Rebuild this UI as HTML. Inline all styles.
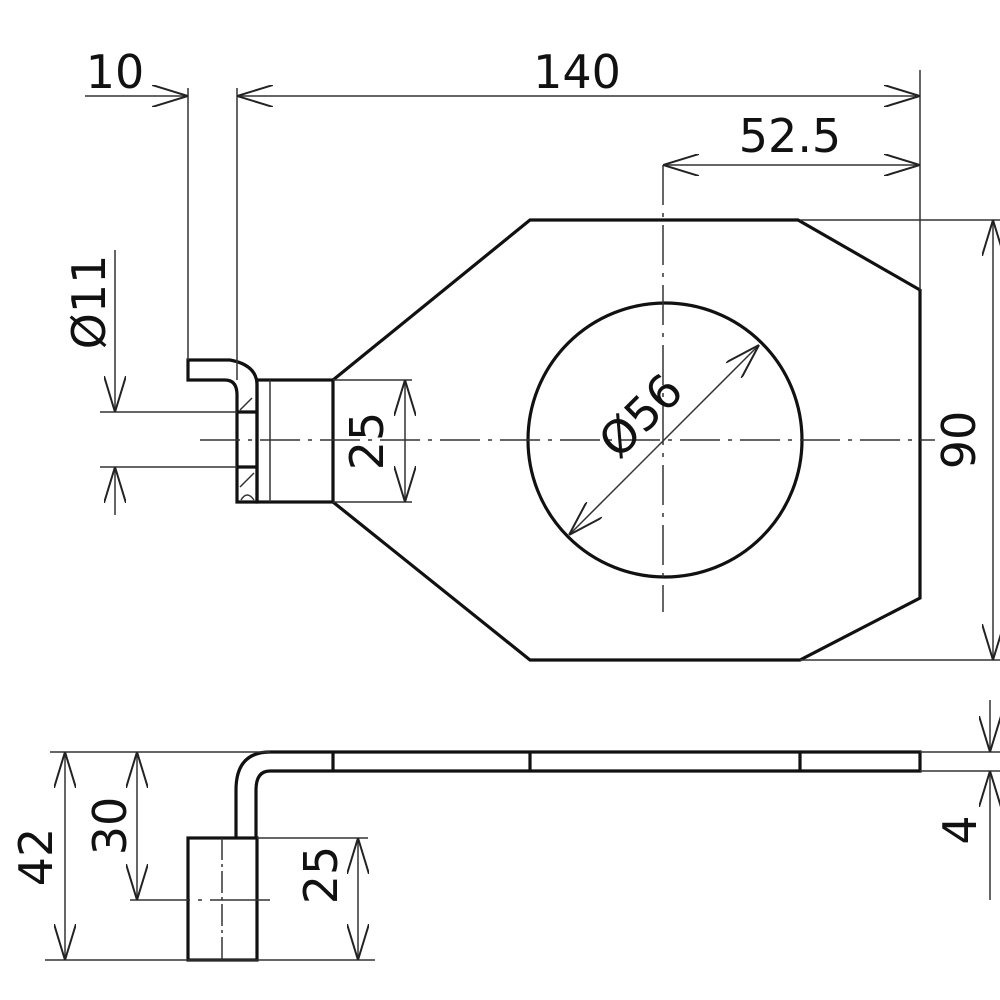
<!DOCTYPE html>
<html><head><meta charset="utf-8"><style>html,body{margin:0;padding:0;background:#fff}svg{display:block}text{font-family:"DejaVu Sans","Liberation Sans",sans-serif;font-size:46px;fill:#111}</style></head>
<body>
<svg width="1000" height="1000" viewBox="0 0 1000 1000" xmlns="http://www.w3.org/2000/svg">
<defs>
<marker id="a" viewBox="0 0 36 22" refX="36" refY="11" markerWidth="36" markerHeight="22" markerUnits="userSpaceOnUse" orient="auto-start-reverse"><path d="M0,0 L36,11 L0,22" fill="none" stroke="#222" stroke-width="2"/></marker>
</defs>
<g fill="none" stroke="#111" stroke-width="3.2" stroke-linejoin="miter">
<!-- plate -->
<path d="M333,380 L530,220 L798,220 L920,290 L920,598 L800,660 L530,660 L333,502"/>
<circle cx="665" cy="440" r="137"/>
<rect x="257" y="380" width="76" height="122"/>
<!-- bent part top view -->
<path d="M188,360 L230,360 Q257,365 257,385 L257,502 L237,502 L237,395 Q237,380 225,380 L188,380 Z"/>
<line x1="237" y1="412" x2="257" y2="412"/>
<line x1="237" y1="467" x2="257" y2="467"/>
<!-- side view -->
<path d="M270,752 L920,752 L920,771 L270,771 Q256,771 256,790 L256,838"/>
<path d="M270,752 Q236,752 236,790 L236,838"/>
<line x1="333" y1="752" x2="333" y2="771"/>
<line x1="530" y1="752" x2="530" y2="771"/>
<line x1="800" y1="752" x2="800" y2="771"/>
<rect x="188" y="838" width="69" height="122"/>
</g>
<g fill="none" stroke="#333" stroke-width="1.5">
<!-- hatch -->
<path d="M240,410 L252,398 M240,487 L254,473 M241,500 Q247,490 254,500"/>
<line x1="270" y1="380" x2="270" y2="502"/>
<line x1="222" y1="838" x2="222" y2="960" stroke-dasharray="22,4,3,4"/>
<!-- center lines -->
<line x1="200" y1="440" x2="935" y2="440" stroke-dasharray="40,8,4,8"/>
<line x1="663" y1="165" x2="663" y2="612" stroke-dasharray="40,8,4,8"/>
<line x1="130" y1="900" x2="275" y2="900" stroke-dasharray="60,8,4,8"/>
<!-- extension lines -->
<line x1="188" y1="88" x2="188" y2="360"/>
<line x1="237" y1="88" x2="237" y2="380"/>
<line x1="920" y1="70" x2="920" y2="290"/>
<line x1="800" y1="220" x2="1000" y2="220"/>
<line x1="800" y1="660" x2="1000" y2="660"/>
<line x1="333" y1="380" x2="412" y2="380"/>
<line x1="333" y1="502" x2="412" y2="502"/>
<line x1="100" y1="412" x2="237" y2="412"/>
<line x1="100" y1="467" x2="237" y2="467"/>
<line x1="50" y1="752" x2="270" y2="752"/>
<line x1="45" y1="960" x2="375" y2="960"/>
<line x1="257" y1="838" x2="368" y2="838"/>
<line x1="920" y1="752" x2="1000" y2="752"/>
<line x1="920" y1="771" x2="1000" y2="771"/>
<!-- dims -->
<line x1="85" y1="96" x2="188" y2="96" marker-end="url(#a)"/>
<line x1="920" y1="96" x2="237" y2="96" marker-start="url(#a)" marker-end="url(#a)"/>
<line x1="663" y1="165" x2="920" y2="165" marker-start="url(#a)" marker-end="url(#a)"/>
<line x1="993" y1="220" x2="993" y2="660" marker-start="url(#a)" marker-end="url(#a)"/>
<line x1="405" y1="380" x2="405" y2="502" marker-start="url(#a)" marker-end="url(#a)"/>
<line x1="115" y1="250" x2="115" y2="412" marker-end="url(#a)"/>
<line x1="115" y1="515" x2="115" y2="467" marker-end="url(#a)"/>
<line x1="569" y1="535" x2="759" y2="345" marker-start="url(#a)" marker-end="url(#a)"/>
<line x1="65" y1="752" x2="65" y2="960" marker-start="url(#a)" marker-end="url(#a)"/>
<line x1="137" y1="752" x2="137" y2="900" marker-start="url(#a)" marker-end="url(#a)"/>
<line x1="358" y1="838" x2="358" y2="960" marker-start="url(#a)" marker-end="url(#a)"/>
<line x1="990" y1="700" x2="990" y2="752" marker-end="url(#a)"/>
<line x1="990" y1="900" x2="990" y2="771" marker-end="url(#a)"/>
</g>
<text x="115" y="88" text-anchor="middle">10</text>
<text x="577" y="88" text-anchor="middle">140</text>
<text x="790" y="152" text-anchor="middle">52.5</text>
<text transform="translate(975,440) rotate(-90)" text-anchor="middle">90</text>
<text transform="translate(383,441) rotate(-90)" text-anchor="middle">25</text>
<text transform="translate(105,302) rotate(-90)" text-anchor="middle">Ø11</text>
<text transform="translate(652,427) rotate(-45)" text-anchor="middle">Ø56</text>
<text transform="translate(52,857) rotate(-90)" text-anchor="middle">42</text>
<text transform="translate(126,826) rotate(-90)" text-anchor="middle">30</text>
<text transform="translate(337,875) rotate(-90)" text-anchor="middle">25</text>
<text transform="translate(976,830) rotate(-90)" text-anchor="middle">4</text>
</svg>
</body></html>
